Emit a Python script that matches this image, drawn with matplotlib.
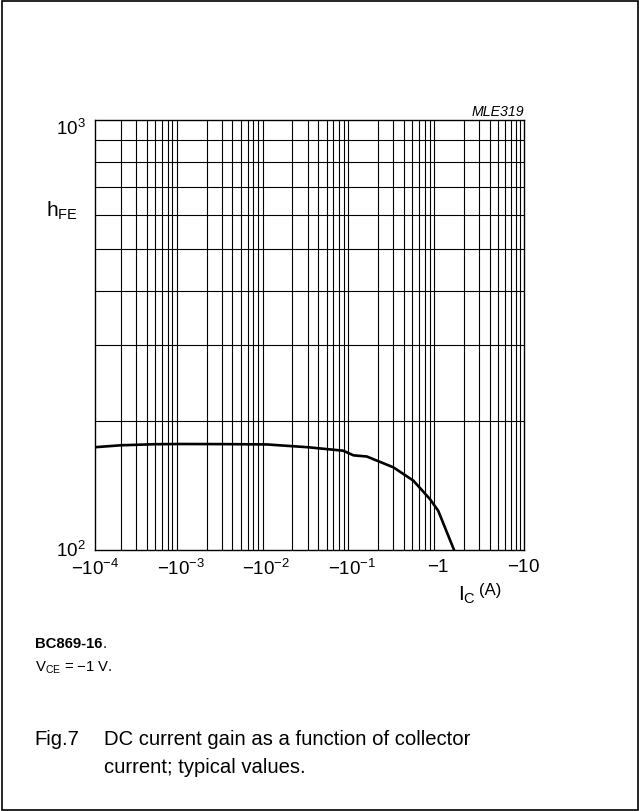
import matplotlib
matplotlib.use("Agg")
import matplotlib.pyplot as plt
import matplotlib.transforms as mtransforms
from matplotlib.patches import Rectangle
import numpy as np

plt.rcParams['font.family'] = ['Liberation Sans', 'DejaVu Sans']
plt.rcParams['mathtext.fontset'] = 'custom'
plt.rcParams['mathtext.rm'] = 'Liberation Sans'
plt.rcParams['mathtext.it'] = 'Liberation Sans:italic'
plt.rcParams['mathtext.bf'] = 'Liberation Sans:bold'

# Data (collector current in A, negative for PNP) and DC current gain
ic_A = [-1e-4, -2e-4, -5e-4, -1e-3, -3e-3, -1e-2, -3e-2, -0.078, -0.103, -0.147,
        -0.3, -0.513, -0.8, -1.0, -1.53]
hfe = [173.4, 175.2, 176.2, 176.4, 176.3, 176.0, 173.4, 170.2, 166.0, 165.0,
       155.7, 145.0, 131.4, 123.4, 100.0]

xticks = [1e-4, 1e-3, 1e-2, 1e-1, 1, 10]
xticklabels = [r'$\mathregular{-10^{-4}}$', r'$\mathregular{-10^{-3}}$',
               r'$\mathregular{-10^{-2}}$', r'$\mathregular{-10^{-1}}$',
               r'$\mathregular{-1}$', r'$\mathregular{-10}$']
yticks = [100, 1000]
yticklabels = [r'$\mathregular{10^{2}}$', r'$\mathregular{10^{3}}$']

W, H = 639, 812
fig = plt.figure(figsize=(W / 100, H / 100), dpi=100)
ax = fig.add_axes([95 / W, 1 - 551 / H, (524 - 95) / W, (551 - 121) / H])

ax.set_xscale('log')
ax.set_yscale('log')
ax.set_xlim(1e-4, 10)
ax.set_ylim(100, 1000)

# grid lines at every minor position
for dec in [1e-4, 1e-3, 1e-2, 1e-1, 1]:
    for m in range(2, 10):
        ax.axvline(dec * m, color='black', lw=0.8, zorder=1)
for m in range(2, 10):
    ax.axhline(100 * m, color='black', lw=0.8, zorder=1)

ax.plot(-np.array(ic_A), hfe, color='black', lw=1.9, zorder=3, clip_on=True)

ax.set_xticks(xticks)
ax.set_xticklabels(xticklabels, fontsize=13.5)
ax.set_yticks(yticks)
ax.set_yticklabels(yticklabels, fontsize=13.5)
ax.xaxis.set_minor_locator(matplotlib.ticker.NullLocator())
ax.yaxis.set_minor_locator(matplotlib.ticker.NullLocator())
ax.tick_params(axis='x', length=0, pad=6)
ax.tick_params(axis='y', length=0, pad=7)
ylabels = ax.get_yticklabels()
for lbl in ylabels:
    lbl.set_va('center_baseline')
# nudge the top label down slightly, bottom label up slightly
ylabels[1].set_transform(ylabels[1].get_transform() +
                         mtransforms.ScaledTranslation(0, -6 / 100, fig.dpi_scale_trans))
ylabels[0].set_transform(ylabels[0].get_transform() +
                         mtransforms.ScaledTranslation(0, 2 / 100, fig.dpi_scale_trans))
for s in ax.spines.values():
    s.set_linewidth(1.0)

# y-axis label h_FE
fig.text(46 / W, 1 - 211 / H, r'$\mathregular{h_{FE}}$', fontsize=15, ha='left', va='center')
# x-axis label
fig.text(458 / W, 1 - 595 / H, r'$\mathregular{I_{C}}$', fontsize=15, ha='left', va='center')
fig.text(479 / W, 1 - 591 / H, '(A)', fontsize=12, ha='left', va='center')
# code
fig.text(524 / W, 1 - 112 / H, 'MLE319', fontsize=10.2, style='italic', ha='right', va='center')

fig.text(35 / W, 1 - 644 / H, 'BC869-16', fontsize=10.7, weight='bold', ha='left', va='center')
fig.text(103 / W, 1 - 644 / H, '.', fontsize=10.7, ha='left', va='center')
fig.text(35 / W, 1 - 668 / H, r'$\mathregular{V_{CE}}$ = −1 V.', fontsize=10.7, ha='left', va='center')

fig.text(34 / W, 1 - 740 / H, 'Fig.7', fontsize=14.6, ha='left', va='center')
fig.text(104 / W, 1 - 740 / H, 'DC current gain as a function of collector', fontsize=14.6, ha='left', va='center')
fig.text(104 / W, 1 - 768 / H, 'current; typical values.', fontsize=14.6, ha='left', va='center')

fig.patches.append(Rectangle((1.5 / W, 1.5 / H), (W - 3) / W, (H - 3) / H,
                             transform=fig.transFigure, fill=False, edgecolor='black', lw=1.2))

fig.savefig('out.png', dpi=100)
